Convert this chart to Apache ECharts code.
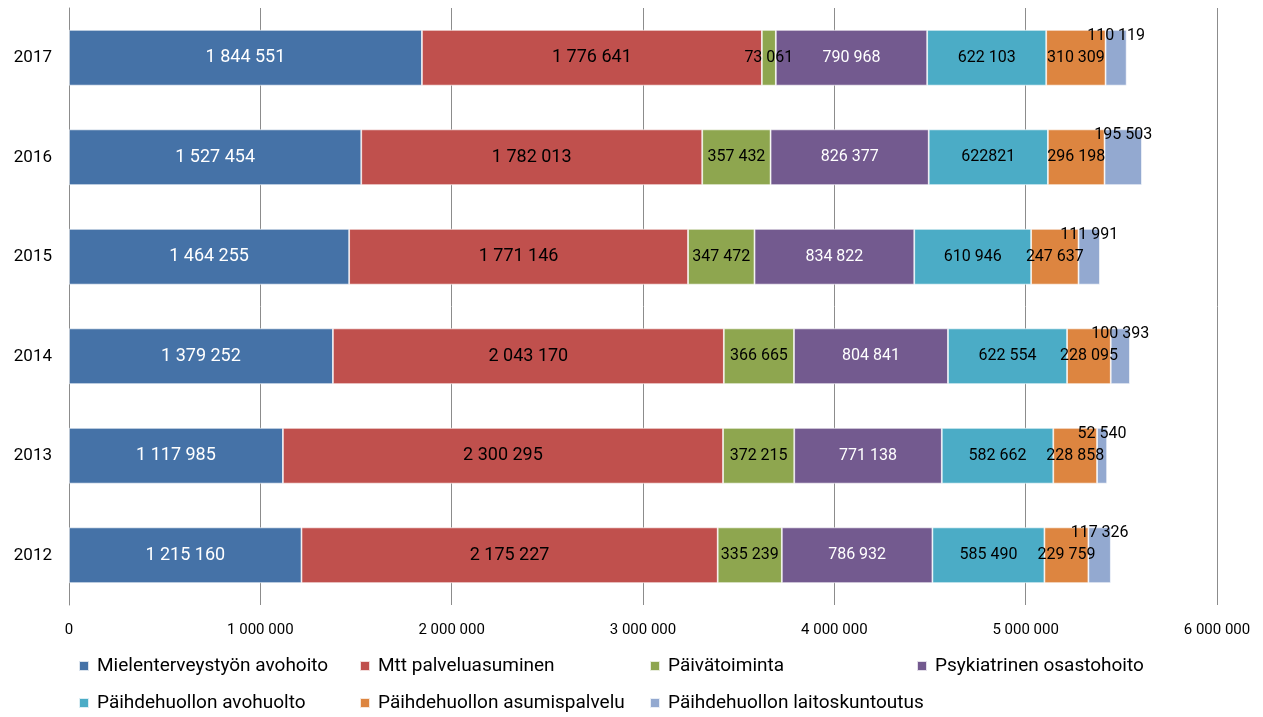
<!DOCTYPE html>
<html>
<head>
<meta charset="utf-8">
<script src="https://cdn.jsdelivr.net/npm/echarts@6/dist/echarts.min.js"></script>
<style>
html,body{margin:0;padding:0;background:#fff;}
#c{width:1263px;height:717px;}
</style>
</head>
<body>
<div id="c"></div>
<script>
const years = ['2012','2013','2014','2015','2016','2017'];
const seriesNames = ['Mielenterveystyön avohoito','Mtt palveluasuminen','Päivätoiminta','Psykiatrinen osastohoito','Päihdehuollon avohuolto','Päihdehuollon asumispalvelu','Päihdehuollon laitoskuntoutus'];
const avohoito      = [1215160, 1117985, 1379252, 1464255, 1527454, 1844551];
const palveluasum   = [2175227, 2300295, 2043170, 1771146, 1782013, 1776641];
const paivatoiminta = [335239, 372215, 366665, 347472, 357432, 73061];
const osastohoito   = [786932, 771138, 804841, 834822, 826377, 790968];
const paihdeAvo     = [585490, 582662, 622554, 610946, 622821, 622103];
const paihdeAsum    = [229759, 228858, 228095, 247637, 296198, 310309];
const paihdeLaitos  = [117326, 52540, 100393, 111991, 195503, 110119];
const xTicks = [0, 1000000, 2000000, 3000000, 4000000, 5000000, 6000000];
// label shown without thousands separator in the original (2016, avohuolto)
const noSpaceLabels = [[4, '2016']];

const values = [avohoito, palveluasum, paivatoiminta, osastohoito, paihdeAvo, paihdeAsum, paihdeLaitos];
const colors = ['#4572a7','#c0504d','#8ea64f','#735a8f','#4bacc6','#dd8540','#93a9d0'];
const labelColors = ['#fff','#000','#000','#fff','#000','#000','#000'];
const FONT = 'Roboto, "Liberation Sans", sans-serif';

function fmt(v){ return String(v).replace(/\B(?=(\d{3})+(?!\d))/g, ' '); }

const series = values.map((arr, i) => ({
  name: seriesNames[i],
  type: 'bar',
  stack: 'total',
  barWidth: '56%',
  data: arr,
  itemStyle: { color: colors[i], borderColor: 'rgba(255,255,255,0.8)', borderWidth: 0.8 },
  label: {
    show: true,
    position: 'inside',
    offset: i === 6 ? [0, -22] : [0, 0],
    color: labelColors[i],
    fontFamily: FONT,
    fontSize: (i === 0 || i === 1) ? 18 : 16,
    formatter: p => {
      for (const [s, y] of noSpaceLabels) if (s === i && y === p.name) return String(p.value);
      return fmt(p.value);
    }
  },
  emphasis: { disabled: true }
}));

const legendPos = [[78,655],[359,655],[649,655],[916,655],[78,692],[359,692],[649,692]];
const legends = seriesNames.map((n, i) => ({
  data: [n],
  left: legendPos[i][0],
  top: legendPos[i][1],
  padding: 0,
  itemWidth: 10,
  itemHeight: 10,
  itemGap: 0,
  icon: 'rect',
  selectedMode: false,
  textStyle: { fontFamily: FONT, fontSize: 19, color: '#000', lineHeight: 22, padding: [0, 0, 0, 3] }
}));

const chart = echarts.init(document.getElementById('c'), null, { renderer: 'canvas' });
chart.setOption({
  animation: false,
  color: colors,
  grid: { left: 69, right: 46, top: 8, bottom: 112, containLabel: false },
  legend: legends,
  xAxis: {
    type: 'value',
    min: xTicks[0],
    max: xTicks[xTicks.length - 1],
    interval: xTicks[1] - xTicks[0],
    axisLine: { show: false },
    axisTick: { show: false },
    splitLine: { show: true, lineStyle: { color: '#8c8c8c', width: 1 } },
    axisLabel: { margin: 18, color: '#000', fontFamily: FONT, fontSize: 15, formatter: v => fmt(v) }
  },
  yAxis: {
    type: 'category',
    data: years,
    axisLine: { show: true, lineStyle: { color: '#8c8c8c', width: 1 } },
    axisTick: { show: false },
    axisLabel: { margin: 17, color: '#000', fontFamily: FONT, fontSize: 17 }
  },
  series: series
});
</script>
</body>
</html>
